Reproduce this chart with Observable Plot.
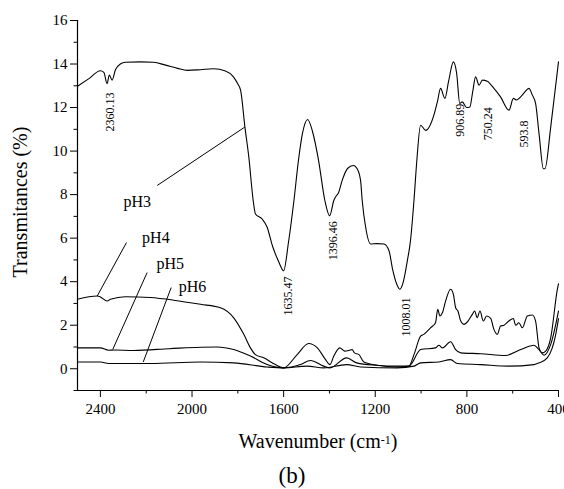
<!DOCTYPE html>
<html>
<head>
<meta charset="utf-8">
<script src="https://cdn.jsdelivr.net/npm/d3@7"></script>
<script src="https://cdn.jsdelivr.net/npm/@observablehq/plot@0.6"></script>
<style>
  body { margin: 0; background: #fff; }
  svg { display: block; }
  svg text { font-family: "Liberation Serif", "Tinos", "Times New Roman", "DejaVu Serif", serif !important; }
</style>
</head>
<body>
<div id="chart"></div>
<script>
// FTIR spectra, [wavenumber (cm-1), transmittance (%)]
const pH3 = [[2500,12.98],[2450,13.33],[2400,13.69],[2385,13.62],[2371,13.1],[2361,13.49],[2349,13.26],[2334,13.75],[2313,14.0],[2291,14.08],[2225,14.1],[2168,14.08],[2116,13.95],[2063,13.8],[2020,13.71],[1963,13.74],[1906,13.78],[1854,13.68],[1819,13.41],[1801,13.1],[1788,12.8],[1769,11.1],[1752,9.72],[1733,7.73],[1723,7.11],[1694,6.88],[1672,6.5],[1649,5.65],[1623,4.95],[1600,4.5],[1579,5.8],[1555,7.73],[1535,9.6],[1518,10.8],[1495,11.45],[1474,10.9],[1448,9.6],[1420,7.73],[1399,7.03],[1381,7.73],[1370,7.95],[1362,8.05],[1343,8.7],[1321,9.2],[1296,9.34],[1277,9.15],[1264,8.64],[1257,7.73],[1242,6.5],[1220,5.73],[1194,5.75],[1162,5.73],[1140,5.42],[1124,4.55],[1103,3.8],[1093,3.65],[1080,3.9],[1060,4.96],[1046,5.9],[1031,7.73],[1019,9.5],[1002,11.19],[980,10.95],[944,11.65],[928,12.3],[915,12.88],[896,12.42],[880,13.2],[859,14.1],[845,13.6],[831,12.19],[820,12.26],[801,12.0],[787,12.03],[775,12.7],[762,13.41],[747,13.03],[732,13.26],[711,13.21],[682,12.88],[653,12.49],[616,11.88],[597,12.42],[583,12.35],[565,12.49],[548,12.7],[529,12.88],[514,12.57],[500,12.19],[485,10.8],[466,9.19],[459,9.19],[434,11.1],[400,14.1]];
const pH4 = [[2500,3.19],[2414,3.34],[2400,3.3],[2371,3.11],[2356,3.19],[2291,3.31],[2182,3.27],[2080,3.15],[1963,2.96],[1876,2.8],[1818,2.34],[1774,1.58],[1745,0.96],[1723,0.65],[1687,0.5],[1636,0.19],[1600,0.04],[1541,0.65],[1491,1.16],[1453,0.96],[1417,0.42],[1398,0.19],[1381,0.58],[1355,0.96],[1334,0.81],[1315,0.84],[1301,0.88],[1291,0.73],[1271,0.65],[1250,0.31],[1191,0.16],[1104,0.08],[1053,0.12],[1031,0.65],[1002,1.5],[988,1.58],[959,1.88],[937,2.11],[927,2.73],[918,2.42],[907,2.57],[893,3.11],[871,3.65],[859,3.42],[849,2.8],[839,2.65],[827,2.19],[813,2.04],[795,2.19],[776,2.5],[766,2.65],[755,2.34],[743,2.65],[728,2.19],[714,2.42],[696,2.31],[682,1.81],[667,1.58],[653,1.96],[638,2.0],[617,2.19],[597,2.31],[587,2.0],[573,2.11],[558,1.88],[536,2.42],[514,2.47],[500,2.19],[485,0.96],[471,0.73],[456,0.81],[434,1.42],[405,3.65],[400,3.9]];
const pH5 = [[2500,0.96],[2400,0.96],[2364,0.85],[2340,0.86],[2256,0.84],[2100,0.92],[1963,0.99],[1890,1.0],[1818,0.88],[1745,0.58],[1672,0.19],[1600,0.04],[1527,0.19],[1483,0.38],[1425,0.12],[1398,0.04],[1325,0.5],[1281,0.27],[1200,0.16],[1104,0.12],[1053,0.12],[1002,0.88],[937,0.96],[922,1.08],[907,0.96],[871,1.24],[849,0.88],[827,0.73],[740,0.69],[631,0.61],[565,0.88],[507,1.08],[485,0.88],[463,0.62],[434,1.12],[400,2.65]];
const pH6 = [[2500,0.31],[2400,0.31],[2364,0.24],[2182,0.24],[1963,0.31],[1818,0.27],[1672,0.08],[1600,0.04],[1498,0.12],[1425,0.04],[1325,0.19],[1264,0.08],[1104,0.04],[1031,0.12],[1002,0.27],[922,0.31],[871,0.42],[842,0.24],[740,0.19],[617,0.12],[507,0.19],[485,0.27],[449,0.5],[412,1.58],[400,2.3]];

// Series names with their leader lines
const seriesNames = ["pH3", "pH4", "pH5", "pH6"];
const nameWn = [2299, 2218, 2155, 2058];
const nameT = [7.66, 6.0, 4.83, 3.78];
const leaderWn1 = [2152, 2286, 2196, 2091];
const leaderT1 = [8.42, 5.80, 4.42, 3.73];
const leaderWn2 = [1770, 2414, 2346, 2213];
const leaderT2 = [11.1, 3.34, 0.89, 0.31];

// Peak annotations
const peakText = ["2360.13", "1635.47", "1396.46", "1008.01", "906.89", "750.24", "593.8"];
const peakWn = [2356, 1581, 1386, 1067, 828, 705, 551];
const peakT = [11.8, 3.34, 5.88, 2.38, 11.42, 11.26, 10.78];

// Axis ticks
const xMajor = [2400, 2000, 1600, 1200, 800, 400];
const xMinor = [2200, 1800, 1400, 1000, 600];
const yMajor = [0, 2, 4, 6, 8, 10, 12, 14, 16];
const yMinor = [-1, 1, 3, 5, 7, 9, 11, 13, 15];

const spectra = [["pH3", pH3], ["pH4", pH4], ["pH5", pH5], ["pH6", pH6]]
  .flatMap(([s, pts]) => pts.map(([w, t]) => ({series: s, w, t})));
const names = seriesNames.map((s, i) => ({s, w: nameWn[i], t: nameT[i],
  w1: leaderWn1[i], t1: leaderT1[i], w2: leaderWn2[i], t2: leaderT2[i]}));
const peaks = peakText.map((p, i) => ({p, w: peakWn[i], t: peakT[i]}));

const serif = "Liberation Serif, Tinos, Times New Roman, DejaVu Serif, serif";

const chart = Plot.plot({
  width: 564,
  height: 489,
  marginLeft: 77,
  marginRight: 6,
  marginTop: 20,
  marginBottom: 99,
  style: {fontFamily: serif, fontSize: "15px", background: "#fff", color: "#000"},
  x: {domain: [2500, 400], label: null},
  y: {domain: [-1, 16], label: null},
  marks: [
    Plot.ruleX([2500], {stroke: "#000", strokeWidth: 1.2}),
    Plot.ruleY([-1], {stroke: "#000", strokeWidth: 1.2}),
    Plot.axisX({ticks: xMajor, tickSize: 7, tickPadding: 6, tickFormat: d => String(d), fontSize: 15}),
    Plot.axisX({ticks: xMinor, tickSize: 3.5, tickFormat: () => ""}),
    Plot.axisY({ticks: yMajor, tickSize: 7, tickPadding: 3, tickFormat: d => String(d), fontSize: 15}),
    Plot.axisY({ticks: yMinor, tickSize: 3.5, tickFormat: () => ""}),
    Plot.line(spectra, {x: "w", y: "t", z: "series", stroke: "#000", strokeWidth: 1.1, curve: "monotone-x"}),
    Plot.link(names, {x1: "w1", y1: "t1", x2: "w2", y2: "t2", stroke: "#000", strokeWidth: 1}),
    Plot.text(names, {x: "w", y: "t", text: "s", textAnchor: "start", fontSize: 16, fill: "#000"}),
    Plot.text(peaks, {x: "w", y: "t", text: "p", rotate: -90, textAnchor: "middle", fontSize: 12, fill: "#000"}),
    Plot.text(["Transmitances (%)"], {text: d => d, frameAnchor: "left", textAnchor: "middle", dx: -57, dy: -3.5, rotate: -90, fontSize: 20, fill: "#000"})
  ]
});

// x-axis title with superscript and panel tag
const svg = d3.select(chart);
const xt = svg.append("text")
  .attr("x", 318).attr("y", 448)
  .attr("text-anchor", "middle")
  .attr("font-size", 20).attr("fill", "#000");
xt.append("tspan").text("Wavenumber (cm");
xt.append("tspan").attr("dy", -4).attr("font-size", 12).text("-1");
xt.append("tspan").attr("dy", 4).text(")");

svg.append("text")
  .attr("x", 292).attr("y", 483)
  .attr("text-anchor", "middle")
  .attr("font-size", 23).attr("fill", "#000")
  .text("(b)");

document.getElementById("chart").appendChild(chart);
</script>
</body>
</html>
